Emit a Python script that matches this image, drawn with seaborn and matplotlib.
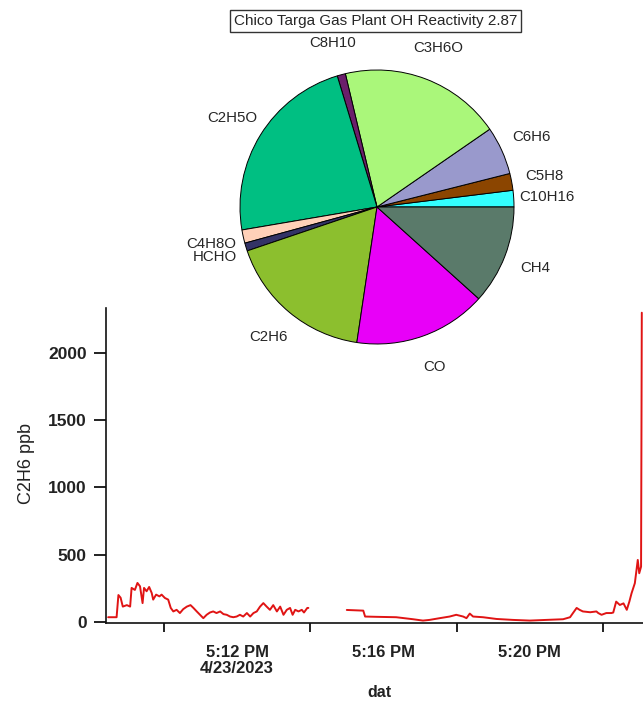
import matplotlib
matplotlib.use("Agg")
import matplotlib.pyplot as plt
import matplotlib.dates as mdates
from matplotlib.ticker import FixedLocator, FixedFormatter
import pandas as pd
import seaborn as sns

# OH reactivity contributions (s^-1), total 2.87
species = ["C10H16", "C5H8", "C6H6", "C3H6O", "C8H10", "C2H5O",
           "C4H8O", "HCHO", "C2H6", "CO", "CH4"]
reactivity = [0.056, 0.057, 0.163, 0.548, 0.028, 0.660,
              0.045, 0.027, 0.501, 0.450, 0.335]
slice_colors = ["#33FFFF", "#8B4500", "#9999CC", "#AAF77A", "#6B1F6B", "#00BF82",
                "#FFD0B8", "#333366", "#8CBF2E", "#E800F8", "#5A7A6A"]
pie_title = "Chico Targa Gas Plant OH Reactivity 2.87"

# C2H6 time series, minutes relative to 5:12 PM
t_ref = pd.Timestamp("2023-04-23 17:12:00")
seg1_min = [-3.52, -3.29, -3.24, -3.18, -3.12, -3.01, -2.92, -2.88, -2.79, -2.72,
            -2.65, -2.58, -2.54, -2.47, -2.40, -2.33, -2.29, -2.21, -2.12, -2.06,
            -1.97, -1.88, -1.81, -1.74, -1.65, -1.56, -1.47, -1.37, -1.27, -1.19,
            -1.10, -1.01, -0.92, -0.83, -0.74, -0.65, -0.56, -0.46, -0.37, -0.28,
            -0.19, -0.10, -0.01, 0.08, 0.17, 0.27, 0.36, 0.45, 0.54, 0.63,
            0.72, 0.81, 0.90, 0.99, 1.09, 1.18, 1.27, 1.36, 1.45, 1.52,
            1.59, 1.68, 1.77, 1.83, 1.92, 1.95]
seg1_ppb = [35, 35, 200, 180, 114, 125, 114, 253, 238, 290,
            265, 140, 253, 228, 260, 215, 166, 203, 190, 203,
            178, 166, 104, 78, 90, 66, 95, 114, 125, 104,
            78, 53, 28, 53, 70, 78, 66, 78, 58, 53,
            40, 35, 40, 53, 40, 66, 40, 66, 78, 114,
            140, 114, 90, 125, 78, 114, 53, 90, 104, 53,
            90, 78, 90, 70, 104, 104]
seg2_min = [3.00, 3.45, 3.50, 3.80, 4.35, 4.81, 5.08, 5.26, 5.54, 5.81,
            5.99, 6.18, 6.27, 6.36, 6.45, 6.72, 7.09, 7.54, 8.00, 8.45,
            8.91, 9.10, 9.18, 9.28, 9.36, 9.45, 9.65, 9.82, 9.87, 9.96,
            10.09, 10.23, 10.28, 10.36, 10.46, 10.56, 10.65, 10.72, 10.78, 10.87,
            10.95, 10.99, 11.04, 11.06]
seg2_ppb = [89, 84, 40, 38, 35, 20, 10, 15, 28, 40,
            53, 40, 28, 62, 40, 35, 22, 15, 10, 15,
            20, 35, 66, 104, 90, 78, 72, 78, 66, 53,
            66, 66, 70, 151, 126, 138, 90, 151, 213, 288,
            461, 362, 411, 2300]

major_min = [0, 4, 8]
major_labels = ["5:12 PM\n4/23/2023", "5:16 PM", "5:20 PM"]
minor_min = [-2, 2, 6, 10]
y_ticks = [0, 500, 1000, 1500, 2000]

sns.set_theme(style="white")
plt.rcParams["font.family"] = ["Liberation Sans", "DejaVu Sans"]

W, H = 643, 702
fig = plt.figure(figsize=(W / 100, H / 100), dpi=100)

# ---- time series (drawn first, transparent background) ----
frames = []
for k, (mins, vals) in enumerate([(seg1_min, seg1_ppb), (seg2_min, seg2_ppb)]):
    frames.append(pd.DataFrame({
        "time": t_ref + pd.to_timedelta(mins, unit="m"),
        "ppb": vals,
        "segment": k,
    }))
df = pd.concat(frames, ignore_index=True)

left_px, right_px, top_px, bot_px = 106, 643, 308, 623
ax = fig.add_axes([left_px / W, (H - bot_px) / H,
                   (right_px - left_px) / W, (bot_px - top_px) / H], zorder=1)
ax.set_facecolor("none")
sns.lineplot(data=df, x="time", y="ppb", units="segment", estimator=None,
             color="#E01414", linewidth=1.4, ax=ax, legend=False)

px_per_min = 36.6
ax.set_xlim(t_ref + pd.Timedelta(minutes=-(237 - left_px) / px_per_min),
            t_ref + pd.Timedelta(minutes=(right_px - 237) / px_per_min))
ax.set_ylim(-8, 2335)

to_num = lambda mins: [mdates.date2num(t_ref + pd.Timedelta(minutes=m)) for m in mins]
ax.xaxis.set_major_locator(FixedLocator(to_num(major_min)))
ax.xaxis.set_major_formatter(FixedFormatter(major_labels))
ax.xaxis.set_minor_locator(FixedLocator(to_num(minor_min)))
ax.set_yticks(y_ticks)
ax.set_yticklabels([str(v) for v in y_ticks])

for side in ("top", "right"):
    ax.spines[side].set_visible(False)
for side in ("left", "bottom"):
    ax.spines[side].set_color("#111111")
    ax.spines[side].set_linewidth(1.2)

ax.tick_params(axis="x", which="major", direction="out", length=9, width=1.3,
               color="#111111", pad=7, labelsize=12)
ax.tick_params(axis="x", which="minor", direction="out", length=6.5, width=1.3,
               color="#111111", bottom=True)
ax.tick_params(axis="y", which="major", direction="out", length=9, width=1.3,
               color="#111111", pad=5, labelsize=12.5, left=True)
for lab in ax.get_xticklabels() + ax.get_yticklabels():
    lab.set_fontweight("bold")
    lab.set_color("#222222")
for lab in ax.get_xticklabels():
    lab.set_linespacing(1.1)

ax.set_xlabel("dat", fontsize=11.5, fontweight="bold", color="#222222")
ax.set_ylabel("C2H6 ppb", fontsize=13, color="#222222")
ax.xaxis.set_label_coords(379 / W, 1 - 702 / H + 2 / H, transform=fig.transFigure)
ax.xaxis.label.set_va("bottom")
ax.yaxis.set_label_coords(35 / W, 1 - 464 / H, transform=fig.transFigure)
ax.grid(False)

# ---- pie of reactivity (on top) ----
cx, cy, r = 377, 207, 137
pax = fig.add_axes([(cx - r) / W, (H - cy - r) / H, 2 * r / W, 2 * r / H], zorder=2)
pax.set_facecolor("none")
wedges, texts = pax.pie(reactivity, labels=species, colors=slice_colors,
                        startangle=0, counterclock=True, labeldistance=1.24,
                        wedgeprops=dict(edgecolor="black", linewidth=0.7),
                        textprops=dict(fontsize=10.8, color="#262626"))
for t in texts:
    t.set_ha("center")
    t.set_va("center")
pax.set_xlim(-1, 1)
pax.set_ylim(-1, 1)
pax.set_aspect("auto")
pax.axis("off")

fig.text(375.5 / W, 1 - 21 / H, pie_title, ha="center", va="center",
         fontsize=11, color="#262626",
         bbox=dict(boxstyle="square,pad=0.24", facecolor="white",
                   edgecolor="#333333", linewidth=1.0))

fig.savefig("out.png", dpi=100)
